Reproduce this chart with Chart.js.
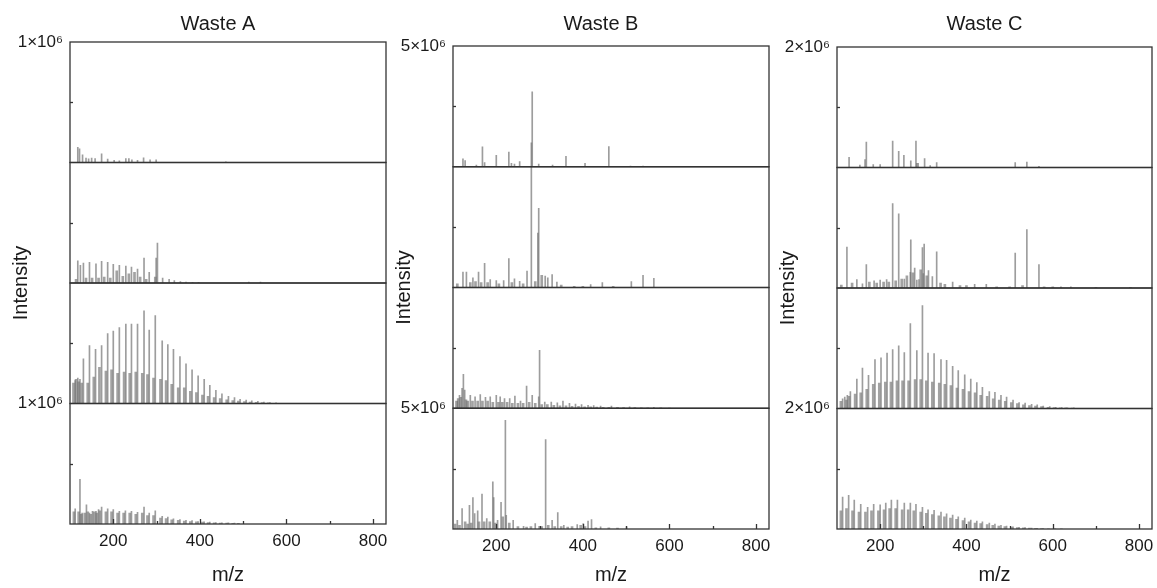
<!DOCTYPE html>
<html>
<head>
<meta charset="utf-8">
<script src="https://cdn.jsdelivr.net/npm/chart.js@4.4.1/dist/chart.umd.min.js"></script>
<style>
  html, body { margin: 0; padding: 0; background: #fff; }
  #wrap { position: relative; width: 1157px; height: 588px; }
  #wrap canvas { position: absolute; left: 0; top: 0; }
</style>
</head>
<body>
<div id="wrap">
  <canvas id="chart-a" width="1157" height="588"></canvas>
  <canvas id="chart-b" width="1157" height="588"></canvas>
  <canvas id="chart-c" width="1157" height="588"></canvas>
</div>
<script>
// m/z axis
const mzMin = 100;
const mzMax = 830;
const mzTickLabels = [200, 400, 600, 800];
const mzMinorTicks = [300, 500, 700];

// intensity full scale of each column (x10^6)
const aMax = 1, bMax = 5, cMax = 2;
const aLabel = '1×10⁶', bLabel = '5×10⁶', cLabel = '2×10⁶';

// ---- Waste A (intensity in 10^6) ----
const a1Mz = [118, 122, 129, 137, 143, 150, 158, 173, 187, 202, 214, 229, 236, 243, 256, 270, 285, 299, 460];
const a1Int = [0.125, 0.114, 0.064, 0.036, 0.03, 0.036, 0.033, 0.072, 0.028, 0.017, 0.014, 0.033, 0.033, 0.022, 0.017, 0.039, 0.022, 0.022, 0.006];

const a2Mz = [118, 124, 131, 145, 160, 173, 187, 200, 214, 229, 242, 256, 271, 283, 299, 302, 314, 329, 341, 355, 368, 383, 397, 513, 540];
const a2Int = [0.185, 0.146, 0.166, 0.171, 0.16, 0.18, 0.171, 0.155, 0.146, 0.141, 0.133, 0.116, 0.207, 0.088, 0.207, 0.331, 0.04, 0.03, 0.02, 0.012, 0.008, 0.006, 0.005, 0.008, 0.008];
const a2ClusterMz = [114, 137, 151, 166, 179, 193, 208, 222, 236, 249, 262, 276, 297];
const a2ClusterInt = [0.03, 0.04, 0.04, 0.04, 0.05, 0.04, 0.1, 0.055, 0.077, 0.088, 0.05, 0.03, 0.05];

const a3Mz = [112, 118, 123, 131, 145, 159, 173, 187, 200, 214, 229, 242, 256, 271, 283, 297, 313, 326, 339, 354, 368, 382, 396, 410, 423, 437, 451, 466, 480, 493, 507, 520, 534, 548, 562, 576];
const a3Int = [0.19, 0.21, 0.20, 0.37, 0.48, 0.45, 0.48, 0.58, 0.60, 0.63, 0.66, 0.66, 0.66, 0.77, 0.61, 0.73, 0.52, 0.49, 0.45, 0.39, 0.33, 0.28, 0.23, 0.20, 0.15, 0.11, 0.08, 0.06, 0.05, 0.035, 0.028, 0.022, 0.017, 0.012, 0.008, 0.006];
const a3ClusterMz = [108, 114, 120, 127, 141, 155, 168, 183, 196, 210, 225, 238, 252, 267, 279, 293, 309, 322, 335, 350, 364, 378, 392, 406, 419, 433, 447, 462, 476, 489, 503, 516, 530, 544, 558];
const a3ClusterInt = [0.17, 0.2, 0.18, 0.17, 0.17, 0.22, 0.3, 0.27, 0.28, 0.25, 0.26, 0.25, 0.26, 0.25, 0.24, 0.21, 0.2, 0.19, 0.16, 0.13, 0.13, 0.1, 0.09, 0.07, 0.06, 0.05, 0.04, 0.03, 0.025, 0.02, 0.015, 0.012, 0.01, 0.008, 0.006];

const a4Mz = [112, 123, 128, 138, 145, 152, 160, 166, 173, 187, 200, 214, 228, 242, 256, 271, 283, 297, 313, 326, 339, 354, 368, 382, 396, 410, 423, 437, 451, 466, 480];
const a4Int = [0.125, 0.37, 0.09, 0.16, 0.09, 0.105, 0.105, 0.12, 0.14, 0.125, 0.12, 0.105, 0.11, 0.105, 0.097, 0.14, 0.09, 0.11, 0.064, 0.058, 0.042, 0.036, 0.03, 0.028, 0.02, 0.018, 0.015, 0.012, 0.01, 0.01, 0.008];
const a4ClusterMz = [109, 120, 126, 134, 141, 148, 156, 162, 169, 183, 196, 210, 224, 238, 252, 267, 279, 293, 309, 322, 335, 350, 364, 378, 392, 406, 419, 433, 447, 462, 476, 489];
const a4ClusterInt = [0.1, 0.1, 0.08, 0.09, 0.1, 0.08, 0.1, 0.09, 0.11, 0.1, 0.1, 0.09, 0.09, 0.09, 0.08, 0.09, 0.07, 0.07, 0.05, 0.045, 0.035, 0.03, 0.025, 0.02, 0.018, 0.015, 0.012, 0.01, 0.008, 0.007, 0.006, 0.005];

// ---- Waste B (intensity in 10^6) ----
const b1Mz = [123, 128, 154, 168, 173, 200, 229, 235, 242, 254, 281, 283, 298, 330, 361, 405, 460, 510, 539];
const b1Int = [0.33, 0.26, 0.07, 0.83, 0.17, 0.47, 0.61, 0.14, 0.11, 0.21, 0.99, 3.1, 0.11, 0.07, 0.43, 0.14, 0.84, 0.03, 0.03];

const b2Mz = [123, 131, 146, 159, 173, 186, 200, 217, 229, 242, 254, 271, 281, 296, 298, 313, 319, 329, 340, 418, 445, 512, 539, 564];
const b2Int = [0.64, 0.64, 0.4, 0.64, 1.0, 0.33, 0.29, 0.29, 1.2, 0.36, 0.26, 0.68, 5.0, 2.25, 3.28, 0.47, 0.4, 0.54, 0.22, 0.12, 0.2, 0.24, 0.5, 0.38];
const b2ClusterMz = [110, 140, 152, 165, 180, 206, 236, 262, 290, 305, 350, 380, 400, 470];
const b2ClusterInt = [0.15, 0.2, 0.25, 0.2, 0.2, 0.15, 0.2, 0.15, 0.25, 0.5, 0.1, 0.05, 0.05, 0.05];

const b3Mz = [115, 121, 124, 127, 140, 151, 163, 175, 186, 200, 209, 219, 231, 243, 256, 270, 283, 298, 300, 312, 327, 341, 354, 369, 383, 397, 412, 425, 441, 466, 508, 564];
const b3Int = [0.54, 0.82, 1.4, 0.75, 0.54, 0.47, 0.57, 0.45, 0.47, 0.54, 0.47, 0.4, 0.4, 0.5, 0.3, 0.92, 0.54, 0.47, 2.4, 0.26, 0.26, 0.22, 0.3, 0.2, 0.17, 0.15, 0.12, 0.11, 0.09, 0.09, 0.06, 0.04];
const b3ClusterMz = [108, 112, 118, 130, 134, 145, 157, 168, 180, 192, 205, 214, 225, 237, 250, 262, 276, 290, 305, 318, 333, 347, 361, 375, 390, 404, 418, 432, 447, 460, 480, 494, 520, 535, 550, 580, 600];
const b3ClusterInt = [0.3, 0.4, 0.45, 0.35, 0.3, 0.3, 0.3, 0.3, 0.3, 0.25, 0.25, 0.25, 0.25, 0.2, 0.2, 0.2, 0.25, 0.2, 0.15, 0.15, 0.12, 0.1, 0.1, 0.08, 0.08, 0.06, 0.06, 0.05, 0.04, 0.04, 0.04, 0.03, 0.03, 0.02, 0.02, 0.02, 0.01];

const b4Mz = [110, 121, 138, 146, 150, 157, 167, 178, 192, 194, 203, 211, 221, 223, 239, 263, 290, 299, 314, 329, 342, 356, 387, 401, 412, 420, 441, 501];
const b4Int = [0.36, 0.85, 0.98, 1.3, 0.64, 0.75, 1.45, 0.43, 1.95, 1.3, 0.36, 1.1, 4.5, 0.57, 0.36, 0.11, 0.22, 0.11, 3.7, 0.36, 0.68, 0.15, 0.18, 0.22, 0.33, 0.39, 0.09, 0.09];
const b4ClusterMz = [105, 115, 128, 134, 142, 160, 172, 185, 198, 215, 230, 250, 270, 280, 305, 320, 335, 350, 365, 375, 395, 405, 430, 460, 480];
const b4ClusterInt = [0.2, 0.15, 0.3, 0.2, 0.25, 0.3, 0.3, 0.3, 0.25, 0.5, 0.25, 0.1, 0.08, 0.1, 0.1, 0.15, 0.1, 0.1, 0.08, 0.1, 0.15, 0.1, 0.05, 0.05, 0.04];

// ---- Waste C (intensity in 10^6) ----
const c1Mz = [128, 153, 165, 168, 184, 200, 229, 243, 255, 271, 283, 285, 288, 303, 316, 331, 513, 540, 568];
const c1Int = [0.17, 0.04, 0.13, 0.42, 0.05, 0.05, 0.44, 0.27, 0.2, 0.11, 0.44, 0.07, 0.07, 0.15, 0.03, 0.08, 0.08, 0.09, 0.02];

const c2Mz = [123, 146, 159, 168, 186, 200, 215, 229, 243, 256, 270, 271, 280, 285, 290, 298, 300, 302, 312, 321, 331, 368, 419, 446, 513, 540, 568, 619, 642];
const c2Int = [0.68, 0.14, 0.07, 0.39, 0.12, 0.13, 0.14, 1.4, 1.23, 0.15, 0.26, 0.8, 0.33, 0.13, 0.14, 0.67, 0.24, 0.73, 0.29, 0.19, 0.6, 0.1, 0.06, 0.06, 0.58, 0.97, 0.39, 0.02, 0.02];
const c2ClusterMz = [110, 135, 175, 192, 208, 220, 236, 250, 262, 276, 294, 308, 340, 350, 385, 400, 470, 500, 530, 580, 600, 700, 780];
const c2ClusterInt = [0.05, 0.08, 0.1, 0.08, 0.1, 0.1, 0.12, 0.15, 0.2, 0.25, 0.3, 0.2, 0.08, 0.06, 0.04, 0.04, 0.02, 0.02, 0.04, 0.02, 0.02, 0.01, 0.01];

const c3Mz = [113, 118, 124, 131, 146, 159, 173, 188, 202, 216, 229, 243, 256, 270, 285, 298, 311, 325, 341, 354, 368, 381, 396, 410, 424, 437, 453, 466, 480, 493, 508, 522, 536, 551, 564, 578, 593, 607, 621, 634, 649];
const c3Int = [0.16, 0.19, 0.22, 0.28, 0.49, 0.67, 0.55, 0.81, 0.84, 0.92, 0.98, 1.04, 0.93, 1.41, 0.96, 1.71, 0.92, 0.91, 0.81, 0.8, 0.7, 0.63, 0.56, 0.49, 0.43, 0.35, 0.28, 0.27, 0.22, 0.19, 0.14, 0.1, 0.09, 0.07, 0.06, 0.04, 0.03, 0.02, 0.016, 0.012, 0.01];
const c3ClusterMz = [109, 122, 128, 142, 155, 169, 184, 198, 212, 225, 239, 252, 266, 281, 294, 307, 321, 337, 350, 364, 378, 392, 406, 420, 433, 448, 462, 476, 490, 504, 518, 532, 546, 560, 574, 589, 603, 617, 630, 645];
const c3ClusterInt = [0.12, 0.14, 0.2, 0.24, 0.26, 0.32, 0.4, 0.42, 0.44, 0.44, 0.46, 0.46, 0.46, 0.48, 0.48, 0.46, 0.44, 0.42, 0.4, 0.38, 0.34, 0.32, 0.28, 0.26, 0.22, 0.2, 0.16, 0.14, 0.12, 0.1, 0.08, 0.06, 0.05, 0.04, 0.03, 0.02, 0.016, 0.012, 0.01, 0.008];

const c4Mz = [113, 127, 140, 155, 171, 185, 200, 213, 226, 240, 256, 270, 283, 298, 311, 325, 341, 354, 368, 381, 396, 410, 424, 437, 453, 466, 480, 493, 508, 522, 536, 551, 564, 578];
const c4Int = [0.53, 0.56, 0.48, 0.41, 0.36, 0.41, 0.4, 0.43, 0.48, 0.48, 0.43, 0.43, 0.41, 0.36, 0.32, 0.31, 0.28, 0.25, 0.23, 0.2, 0.18, 0.15, 0.13, 0.12, 0.1, 0.08, 0.06, 0.05, 0.035, 0.028, 0.022, 0.017, 0.011, 0.006];
const c4ClusterMz = [109, 122, 136, 151, 166, 180, 196, 209, 222, 236, 251, 265, 278, 294, 307, 321, 336, 349, 363, 377, 392, 406, 420, 433, 448, 461, 475, 489, 504, 518, 532, 546, 560, 574, 590, 605, 620];
const c4ClusterInt = [0.3, 0.34, 0.3, 0.28, 0.28, 0.3, 0.3, 0.32, 0.34, 0.34, 0.32, 0.32, 0.3, 0.28, 0.26, 0.24, 0.22, 0.2, 0.18, 0.16, 0.14, 0.12, 0.1, 0.09, 0.075, 0.06, 0.05, 0.04, 0.03, 0.024, 0.018, 0.014, 0.01, 0.006, 0.004, 0.003, 0.002];

const panelIds = ['y1', 'y2', 'y3', 'y4'];
const fontFamily = '"Liberation Sans", Arial, Helvetica, sans-serif';
const textColor = '#1a1a1a';
const stickColor = 'rgba(115, 115, 115, 0.7)';
const clusterColor = 'rgba(70, 70, 70, 0.5)';

Chart.defaults.font.family = fontFamily;

function toPoints(mz, intensity) {
    return mz.map((x, i) => ({ x: x, y: intensity[i] }));
}

function stickSet(mz, intensity, axisId) {
    return {
        data: toPoints(mz, intensity),
        yAxisID: axisId,
        backgroundColor: stickColor,
        barThickness: 1,
        grouped: false,
        order: 1
    };
}

function clusterSet(mz, intensity, axisId) {
    return {
        data: toPoints(mz, intensity),
        yAxisID: axisId,
        backgroundColor: clusterColor,
        barThickness: 2,
        grouped: false,
        order: 2
    };
}

function panelScale(index, max, label) {
    const labelled = index === 0 || index === 3;
    return {
        type: 'linear',
        position: 'left',
        stack: 'panels',
        stackWeight: 1,
        weight: 4 - index,
        min: 0,
        max: max,
        grid: { display: false, drawTicks: false },
        border: { display: false },
        afterBuildTicks: s => { s.ticks = [{ value: 0 }, { value: max / 2 }, { value: max }]; },
        afterFit: s => { s.width = 60; s.paddingTop = 0; s.paddingBottom = 0; },
        ticks: {
            padding: 7,
            color: textColor,
            font: { size: 17 },
            callback: v => (labelled && v === max) ? label : ''
        }
    };
}

// frame, inward ticks and the free text of each column
const panelFrame = {
    id: 'panelFrame',
    afterDatasetsDraw(chart, args, opts) {
        const ctx = chart.ctx;
        const area = chart.chartArea;
        const xs = chart.scales.x;
        ctx.save();
        ctx.strokeStyle = '#333';
        ctx.lineWidth = 1.3;
        panelIds.forEach(id => {
            const s = chart.scales[id];
            ctx.strokeRect(area.left, s.top, area.right - area.left, s.bottom - s.top);
            const yMid = Math.round(s.getPixelForValue(s.max / 2)) + 0.5;
            ctx.beginPath();
            ctx.moveTo(area.left, yMid);
            ctx.lineTo(area.left + 3, yMid);
            ctx.stroke();
        });
        const drawTick = (v, len) => {
            const px = Math.round(xs.getPixelForValue(v)) + 0.5;
            ctx.beginPath();
            ctx.moveTo(px, area.bottom);
            ctx.lineTo(px, area.bottom - len);
            ctx.stroke();
        };
        mzTickLabels.forEach(v => drawTick(v, 5));
        mzMinorTicks.forEach(v => drawTick(v, 3));

        ctx.fillStyle = textColor;
        ctx.textAlign = 'center';
        ctx.textBaseline = 'middle';
        const cx = (area.left + area.right) / 2;
        ctx.font = '20px ' + fontFamily;
        ctx.fillText(opts.title, cx - 10, 24);
        ctx.fillText('m/z', cx, 575);
        ctx.translate(area.left - 48.5, (area.top + area.bottom) / 2);
        ctx.rotate(-Math.PI / 2);
        ctx.fillText('Intensity', 0, 0);
        ctx.restore();
    }
};

function buildChart(canvasId, title, max, label, area, datasets) {
    const scales = {
        x: {
            type: 'linear',
            position: 'bottom',
            min: mzMin,
            max: mzMax,
            offset: false,
            grid: { display: false, drawTicks: false },
            border: { display: false },
            afterBuildTicks: s => { s.ticks = mzTickLabels.map(v => ({ value: v })); },
            afterFit: s => { s.height = 588 - area.bottom; s.paddingLeft = 0; s.paddingRight = 0; },
            ticks: { padding: 7, maxRotation: 0, autoSkip: false, color: textColor, font: { size: 17 } }
        }
    };
    panelIds.forEach((id, i) => { scales[id] = panelScale(i, max, label); });

    return new Chart(document.getElementById(canvasId), {
        type: 'bar',
        data: { datasets: datasets },
        options: {
            responsive: false,
            animation: false,
            events: [],
            layout: {
                padding: { left: area.left - 60, right: 1157 - area.right, top: area.top, bottom: 0 }
            },
            scales: scales,
            plugins: {
                legend: { display: false },
                tooltip: { enabled: false },
                panelFrame: { title: title }
            }
        },
        plugins: [panelFrame]
    });
}

buildChart('chart-a', 'Waste A', aMax, aLabel, { left: 70, right: 386, top: 42, bottom: 524 }, [
    stickSet(a1Mz, a1Int, 'y1'),
    stickSet(a2Mz, a2Int, 'y2'), clusterSet(a2ClusterMz, a2ClusterInt, 'y2'),
    stickSet(a3Mz, a3Int, 'y3'), clusterSet(a3ClusterMz, a3ClusterInt, 'y3'),
    stickSet(a4Mz, a4Int, 'y4'), clusterSet(a4ClusterMz, a4ClusterInt, 'y4')
]);

buildChart('chart-b', 'Waste B', bMax, bLabel, { left: 453, right: 769, top: 46, bottom: 529 }, [
    stickSet(b1Mz, b1Int, 'y1'),
    stickSet(b2Mz, b2Int, 'y2'), clusterSet(b2ClusterMz, b2ClusterInt, 'y2'),
    stickSet(b3Mz, b3Int, 'y3'), clusterSet(b3ClusterMz, b3ClusterInt, 'y3'),
    stickSet(b4Mz, b4Int, 'y4'), clusterSet(b4ClusterMz, b4ClusterInt, 'y4')
]);

buildChart('chart-c', 'Waste C', cMax, cLabel, { left: 837, right: 1152, top: 47, bottom: 529 }, [
    stickSet(c1Mz, c1Int, 'y1'),
    stickSet(c2Mz, c2Int, 'y2'), clusterSet(c2ClusterMz, c2ClusterInt, 'y2'),
    stickSet(c3Mz, c3Int, 'y3'), clusterSet(c3ClusterMz, c3ClusterInt, 'y3'),
    stickSet(c4Mz, c4Int, 'y4'), clusterSet(c4ClusterMz, c4ClusterInt, 'y4')
]);
</script>
</body>
</html>
